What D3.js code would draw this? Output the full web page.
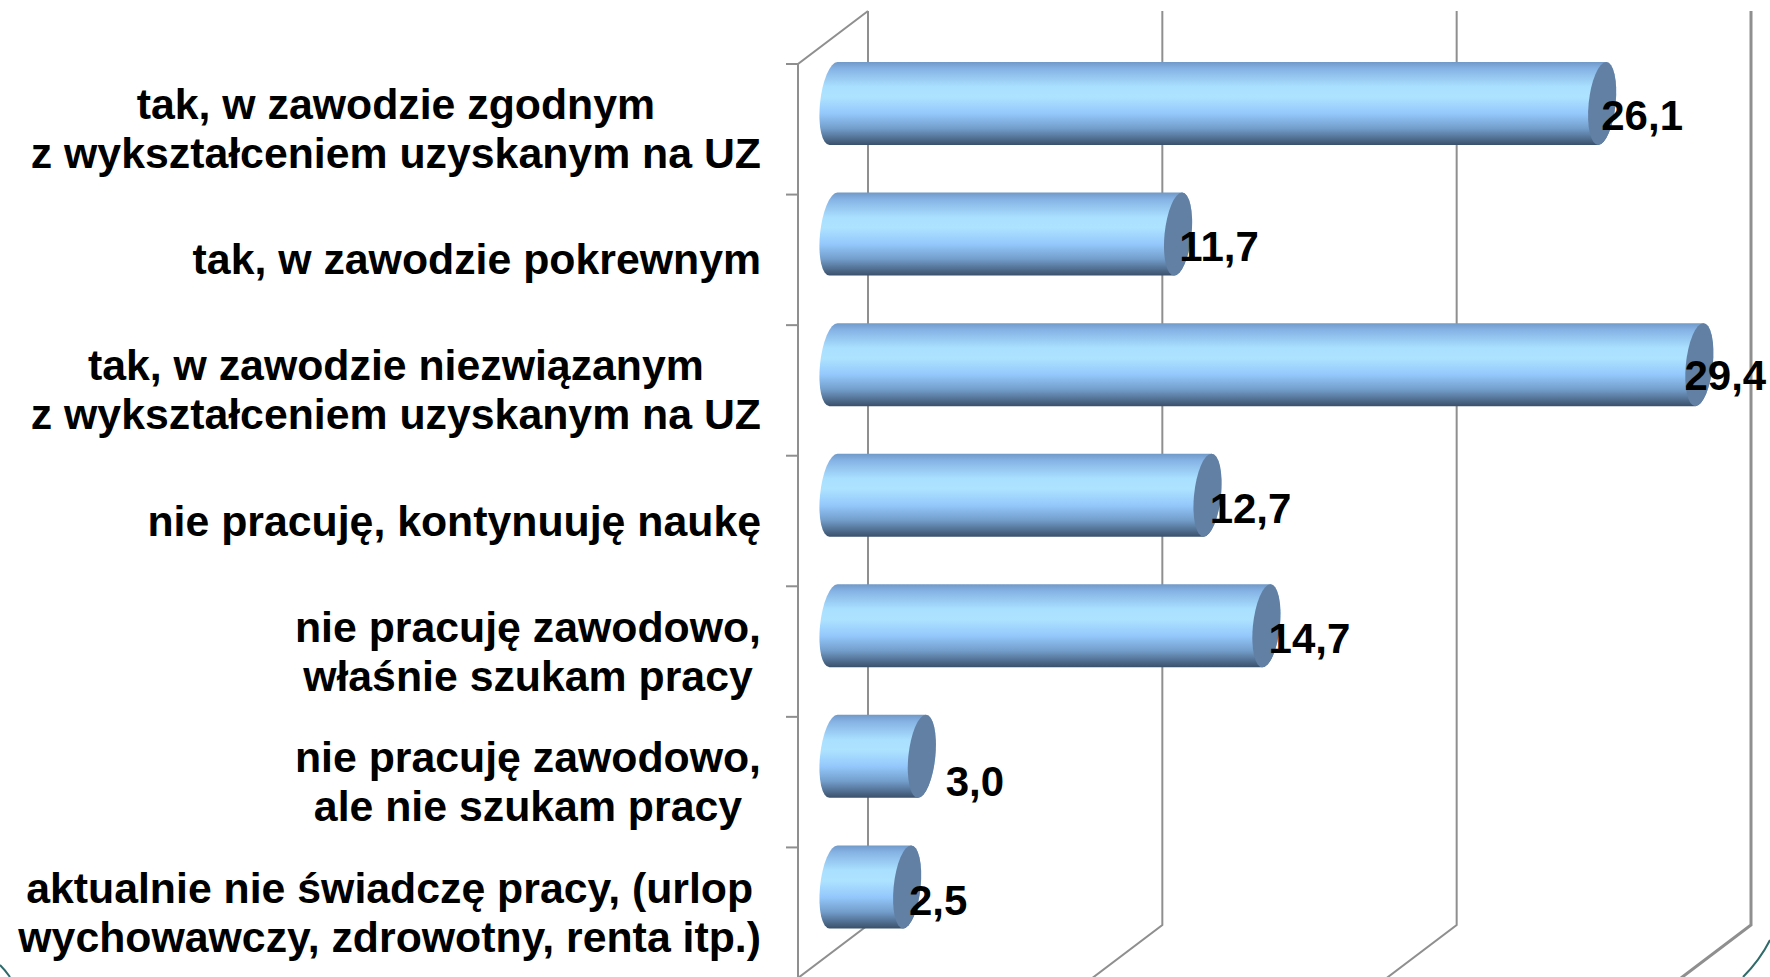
<!DOCTYPE html>
<html>
<head>
<meta charset="utf-8">
<script src="https://d3js.org/d3.v7.min.js"></script>
<style>
  html, body { margin: 0; padding: 0; background: #fff; overflow: hidden; }
  text { font-family: "Liberation Sans", Arial, sans-serif; font-weight: bold; fill: #000; }
</style>
</head>
<body>
<svg id="chart" width="1770" height="977"></svg>
<script>
let categories = [
  ["tak, w zawodzie zgodnym", "z wykształceniem uzyskanym na UZ"],
  ["tak, w zawodzie pokrewnym"],
  ["tak, w zawodzie niezwiązanym", "z wykształceniem uzyskanym na UZ"],
  ["nie pracuję, kontynuuję naukę"],
  ["nie pracuję zawodowo,", "właśnie szukam pracy"],
  ["nie pracuję zawodowo,", "ale nie szukam pracy"],
  ["aktualnie nie świadczę pracy, (urlop", "wychowawczy, zdrowotny, renta itp.)"]
];
let values = [26.1, 11.7, 29.4, 12.7, 14.7, 3.0, 2.5];
let gridTicks = [0, 10, 20, 30];

let depthX = 70;
let depthY = 53;
let wallTop = 11;
let wallBottom = 925;

// the data labels were placed by hand in the original, so each has its own nudge
let labelDx = [40, 41, 26, 43, 43, 53, 31];
let labelDy = [26.5, 27, 25.5, 28, 27, 40, 28];

// back wall scale, bars sit a bit in front of it
let xBack = d3.scaleLinear().domain([0, 30]).range([868, 1751]);
let xBar = d3.scaleLinear().domain([0, 30]).range([833.5, 1717]);
let y = d3.scaleBand()
  .domain(d3.range(categories.length))
  .range([64, 978]);

let barR = 41.5;
let capR = 13.5;
let barY = i => y(i) + 39.5;
let bandMid = i => y(i) + y.bandwidth() / 2;

let svg = d3.select('#chart');

let grad = svg.append('defs').append('linearGradient')
  .attr('id', 'cyl')
  .attr('x1', 0).attr('y1', 0).attr('x2', 0).attr('y2', 1);
[[0, '#7099c8'], [0.08, '#85b2e4'], [0.3, '#aae0ff'], [0.42, '#aee3ff'], [0.62, '#94c8fc'], [0.8, '#739ecb'], [1, '#3a506a']]
  .forEach(d => grad.append('stop').attr('offset', d[0]).attr('stop-color', d[1]));

// grid walls
svg.selectAll('path.grid')
  .data(gridTicks)
  .enter()
  .append('path')
  .attr('class', 'grid')
  .attr('d', d => `M${xBack(d)},${wallTop}V${wallBottom}L${xBack(d) - depthX},${wallBottom + depthY}`)
  .style('fill', 'none')
  .style('stroke', '#8f8f8f')
  .style('stroke-width', d => d == 30 ? 3 : 2);

// left wall
svg.append('path')
  .attr('d', `M${xBack(0)},${wallTop}L${xBack(0) - depthX},${wallTop + depthY}V${wallBottom + depthY}`)
  .style('fill', 'none')
  .style('stroke', '#8f8f8f')
  .style('stroke-width', 2);

svg.selectAll('line.tick')
  .data(d3.range(categories.length + 1))
  .enter()
  .append('line')
  .attr('class', 'tick')
  .attr('x1', 786)
  .attr('x2', xBack(0) - depthX)
  .attr('y1', d => d < categories.length ? y(d) : 978)
  .attr('y2', d => d < categories.length ? y(d) : 978)
  .style('stroke', '#8f8f8f')
  .style('stroke-width', 2);

// cylinders
let bars = svg.selectAll('g.bar')
  .data(values)
  .enter()
  .append('g')
  .attr('class', 'bar')
  .attr('transform', (d, i) => `translate(0,${barY(i)}) skewX(-5.5)`);

bars.append('path')
  .attr('d', d => `M${xBar(0)},${-barR}L${xBar(d)},${-barR}A${capR},${barR} 0 0 1 ${xBar(d)},${barR}L${xBar(0)},${barR}A${capR},${barR} 0 0 1 ${xBar(0)},${-barR}Z`)
  .style('fill', 'url(#cyl)');

bars.append('ellipse')
  .attr('cx', d => xBar(d))
  .attr('cy', 0)
  .attr('rx', capR)
  .attr('ry', barR)
  .style('fill', '#6280a4');

// data labels
svg.selectAll('text.val')
  .data(values)
  .enter()
  .append('text')
  .attr('class', 'val')
  .attr('x', (d, i) => xBar(d) + labelDx[i])
  .attr('y', (d, i) => barY(i) + labelDy[i])
  .attr('text-anchor', 'middle')
  .style('font-size', '42px')
  .text(d => d.toFixed(1).replace('.', ','));

// category labels: lines centred in a block, the block right aligned
let labelRight = 761;
let labels = svg.selectAll('text.cat')
  .data(categories)
  .enter()
  .append('text')
  .attr('class', 'cat')
  .attr('text-anchor', 'middle')
  .style('font-size', '42.8px');

labels.each(function(d, i) {
  let spans = d3.select(this).selectAll('tspan')
    .data(d)
    .enter()
    .append('tspan')
    .attr('y', (t, j) => bandMid(i) + 49 * j - (d.length - 1) * 24.5 + 14.5)
    .text(t => t);
  let blockW = d3.max(spans.nodes(), n => n.getComputedTextLength());
  spans.attr('x', labelRight - blockW / 2);
});

// corner arcs of the slide frame
svg.append('path')
  .attr('d', 'M1770,940Q1760,960 1743,977')
  .style('fill', 'none')
  .style('stroke', '#2f6b6b')
  .style('stroke-width', 2);
svg.append('path')
  .attr('d', 'M0,965Q5,970 10,977')
  .style('fill', 'none')
  .style('stroke', '#2f6b6b')
  .style('stroke-width', 2);
</script>
</body>
</html>
